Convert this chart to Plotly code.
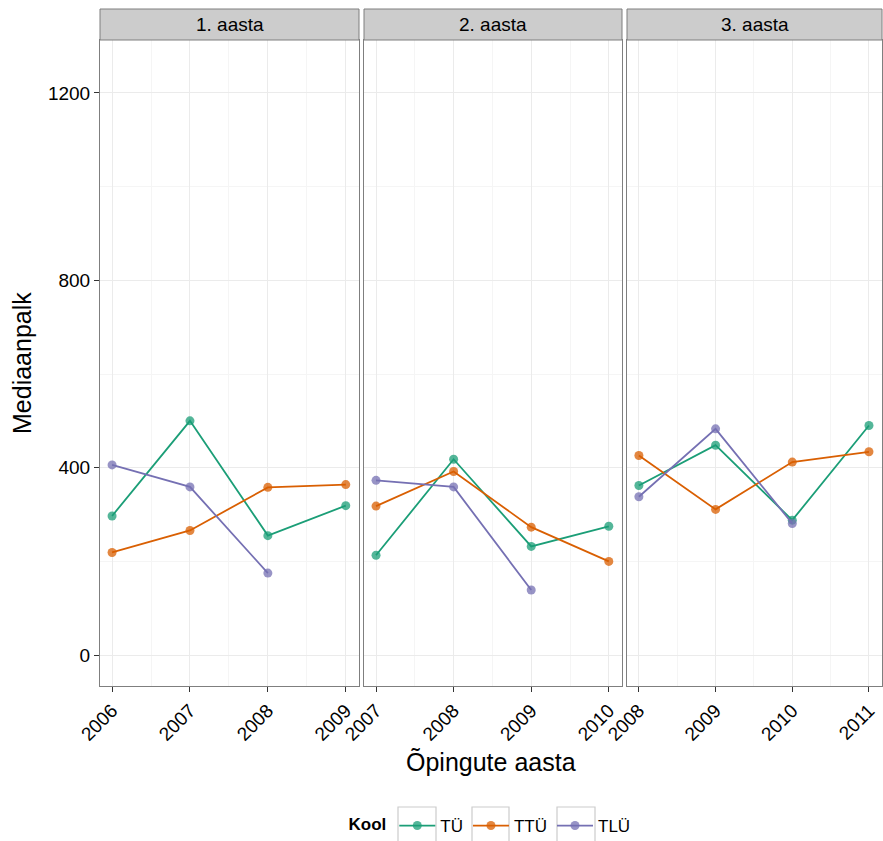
import plotly.graph_objects as go
from plotly.subplots import make_subplots

facets = ["1. aasta", "2. aasta", "3. aasta"]
schools = ["TÜ", "TTÜ", "TLÜ"]
colors = {"TÜ": "#1B9E77", "TTÜ": "#D95F02", "TLÜ": "#7570B3"}

years_1 = [2006, 2007, 2008, 2009]
years_2 = [2007, 2008, 2009, 2010]
years_3 = [2008, 2009, 2010, 2011]

tu_1 = [297, 500, 255, 319]
ttu_1 = [219, 266, 358, 364]
tlu_1 = [406, 359, 175]

tu_2 = [213, 418, 232, 275]
ttu_2 = [318, 392, 273, 200]
tlu_2 = [373, 359, 139]

tu_3 = [362, 448, 288, 490]
ttu_3 = [426, 311, 412, 434]
tlu_3 = [338, 483, 281]

data = [
    (years_1, {"TÜ": tu_1, "TTÜ": ttu_1, "TLÜ": tlu_1}),
    (years_2, {"TÜ": tu_2, "TTÜ": ttu_2, "TLÜ": tlu_2}),
    (years_3, {"TÜ": tu_3, "TTÜ": ttu_3, "TLÜ": tlu_3}),
]

W, H = 883, 841
ml, mr, mt, mb = 100, 1, 40, 155
pw = W - ml - mr
ph = H - mt - mb
doms = [(0, 259 / pw), ((364 - ml) / pw, (622 - ml) / pw), ((627 - ml) / pw, 1.0)]

fig = make_subplots(rows=1, cols=3, shared_yaxes=True, horizontal_spacing=0.01)

for i, (yrs, series) in enumerate(data):
    for s in schools:
        vals = series[s]
        fig.add_trace(go.Scatter(
            x=yrs[:len(vals)], y=vals, mode="lines+markers", name=s,
            legendgroup=s, showlegend=(i == 0),
            line=dict(color=colors[s], width=1.8),
            marker=dict(color=colors[s], size=9, opacity=0.75),
        ), row=1, col=i + 1)

for i, (yrs, _) in enumerate(data):
    ax = "xaxis" if i == 0 else f"xaxis{i+1}"
    fig.layout[ax].update(
        domain=list(doms[i]),
        range=[yrs[0] - 0.155, yrs[-1] + 0.17],
        tickvals=yrs, ticktext=[str(y) for y in yrs], tickangle=-45,
        ticks="outside", ticklen=5, tickcolor="#333333",
        showgrid=True, gridcolor="#EBEBEB", gridwidth=1,
        minor=dict(showgrid=True, gridcolor="#F5F5F5", dtick=0.5, tick0=yrs[0] + 0.5),
        showline=True, mirror=True, linecolor="#7F7F7F", linewidth=1,
        zeroline=False, tickfont=dict(size=19, color="#000000"), automargin=False,
    )
    ay = "yaxis" if i == 0 else f"yaxis{i+1}"
    fig.layout[ay].update(
        range=[-66, 1313], tickvals=[0, 400, 800, 1200],
        showgrid=True, gridcolor="#EBEBEB",
        minor=dict(showgrid=True, gridcolor="#F5F5F5", tickvals=[200, 600, 1000]),
        showline=True, mirror=True, linecolor="#7F7F7F", linewidth=1,
        zeroline=False, ticks="outside" if i == 0 else "", ticklen=5, tickcolor="#333333",
        tickfont=dict(size=19, color="#000000"), automargin=False,
    )
    # strip
    x0, x1 = doms[i]
    fig.add_shape(type="rect", xref="paper", yref="paper", x0=x0, x1=x1,
                  y0=1, y1=1 + 31 / ph, fillcolor="#CCCCCC",
                  line=dict(color="#7F7F7F", width=1))
    fig.add_annotation(xref="paper", yref="paper", x=(x0 + x1) / 2, y=1 + 15.5 / ph,
                       text=facets[i], showarrow=False, xanchor="center", yanchor="middle",
                       font=dict(size=19, color="#000000"))

fig.add_annotation(xref="paper", yref="paper", x=0.5, y=-(762 - 686) / ph,
                   text="Õpingute aasta", showarrow=False, xanchor="center", yanchor="middle",
                   font=dict(size=25, color="#000000"))
fig.add_annotation(xref="paper", yref="paper", x=-(100 - 22) / pw, y=0.5,
                   text="Mediaanpalk", showarrow=False, textangle=-90, xanchor="center",
                   yanchor="middle", font=dict(size=25, color="#000000"))

# legend key boxes
for bx0, bx1 in [(398, 436), (472, 509), (557, 595)]:
    fig.add_shape(type="rect", xref="paper", yref="paper",
                  x0=(bx0 - ml) / pw, x1=(bx1 - ml) / pw,
                  y0=(686 - 845) / ph, y1=(686 - 807) / ph,
                  fillcolor="rgba(0,0,0,0)", line=dict(color="#CCCCCC", width=1.2))

fig.update_layout(
    width=W, height=H,
    margin=dict(l=ml, r=mr, t=mt, b=mb, autoexpand=False),
    plot_bgcolor="white", paper_bgcolor="white",
    font=dict(family="Liberation Sans, Arial, sans-serif", color="#000000"),
    legend=dict(orientation="h", x=0.5, xanchor="center",
                yref="container", y=1 - 826 / H, yanchor="middle",
                bgcolor="rgba(0,0,0,0)",
                title=dict(text="<b>Kool</b>", font=dict(size=17)),
                font=dict(size=17), itemwidth=36),
)

fig.write_html("out.html", post_script="document.body.style.margin='0';",
               config={"displayModeBar": False})
